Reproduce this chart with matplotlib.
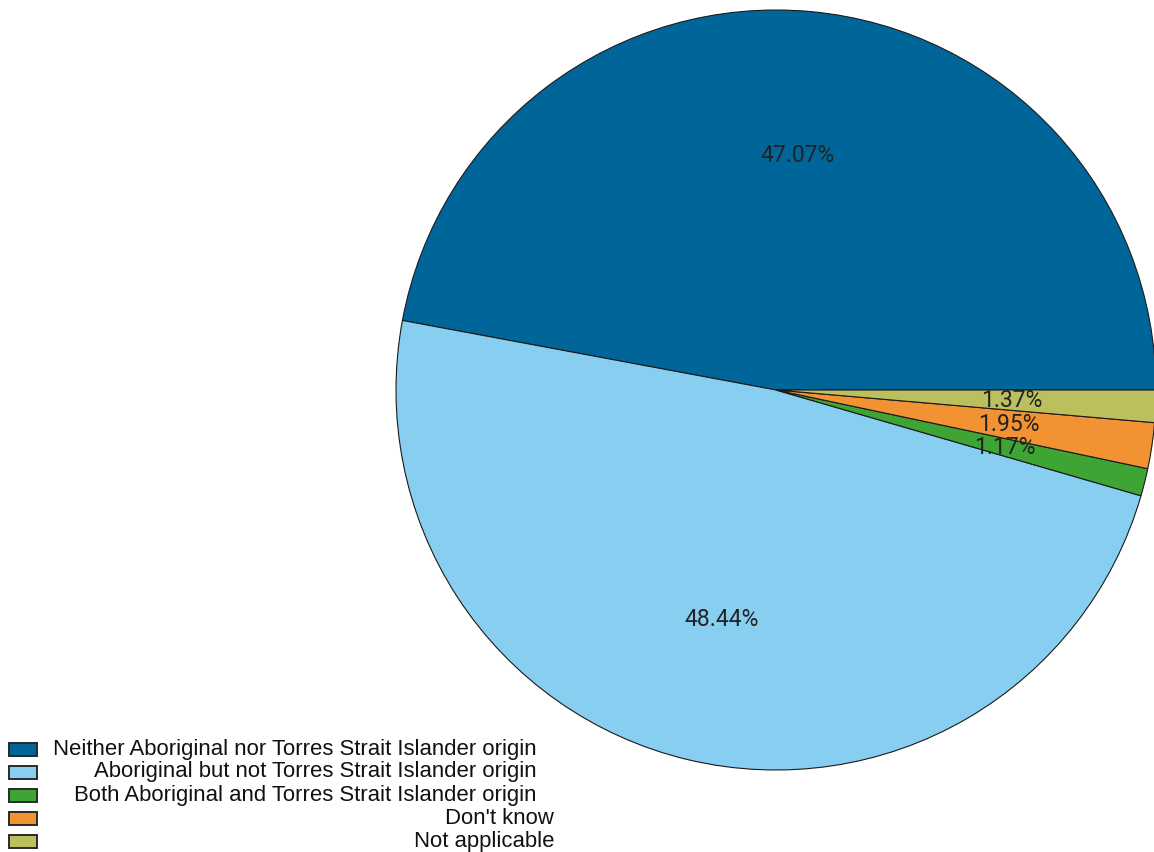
import matplotlib
matplotlib.use("Agg")
import matplotlib.pyplot as plt
from matplotlib.patches import Rectangle

categories = [
    "Neither Aboriginal nor Torres Strait Islander origin",
    "Aboriginal but not Torres Strait Islander origin",
    "Both Aboriginal and Torres Strait Islander origin",
    "Don't know",
    "Not applicable",
]
shares = [47.07, 48.44, 1.17, 1.95, 1.37]
colors = ["#006699", "#87cef0", "#3ea535", "#f39232", "#bcbf5e"]

W, H, DPI = 1154, 852, 100
fig = plt.figure(figsize=(W / DPI, H / DPI), dpi=DPI)

# pie centre and radius in pixels
cx, cy, r = 776, 390, 380
ax = fig.add_axes([(cx - r) / W, 1 - (cy + r) / H, 2 * r / W, 2 * r / H])
wedges, texts, autotexts = ax.pie(
    shares,
    colors=colors,
    startangle=0,
    counterclock=True,
    autopct="%.2f%%",
    pctdistance=0.62,
    wedgeprops=dict(edgecolor="#1a1a1a", linewidth=0.8),
    textprops=dict(fontsize=16.5, color="#222222", family="Roboto"),
)
ax.set_xlim(-1, 1)
ax.set_ylim(-1, 1)
ax.set_aspect("equal")
ax.axis("off")

# legend drawn by hand: swatches on the left, labels right aligned
row_y = [749, 772, 795, 818, 841]
label_right = [537, 537, 537, 554, 554]
for wedge, label, y, xr in zip(wedges, categories, row_y, label_right):
    fig.patches.append(Rectangle(
        (9 / W, 1 - (y + 6.5) / H), 28 / W, 13 / H,
        transform=fig.transFigure, facecolor=wedge.get_facecolor(),
        edgecolor="#2a2a2a", linewidth=1.4))
    fig.text(xr / W, 1 - y / H, label, ha="right", va="center",
             fontsize=15.9, family="Liberation Sans", color="#111111")

fig.savefig("out.png", dpi=DPI)
